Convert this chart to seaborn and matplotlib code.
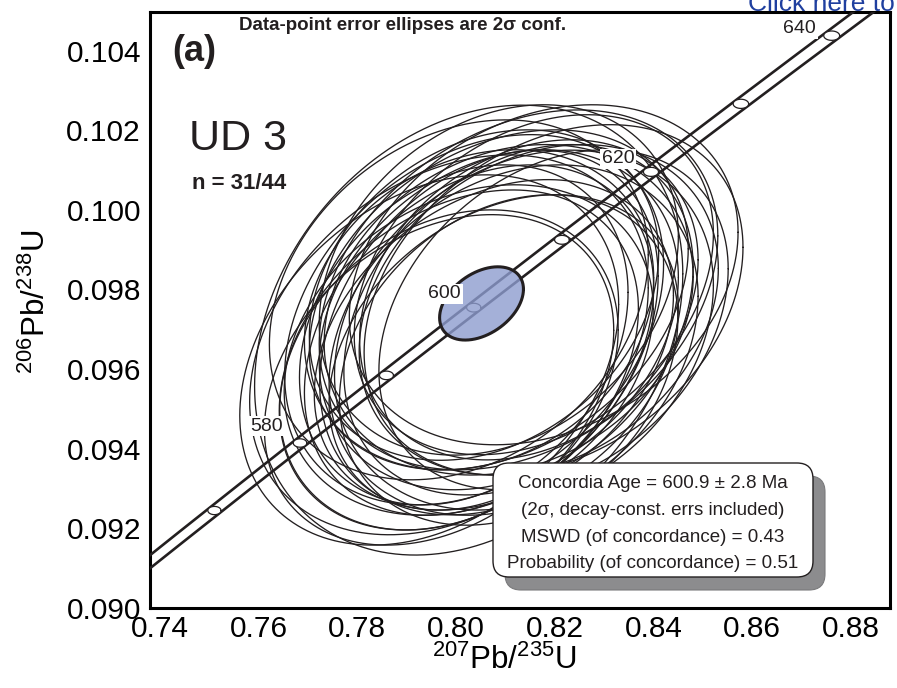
import numpy as np
import pandas as pd
import matplotlib
matplotlib.use("Agg")
import matplotlib.pyplot as plt
import matplotlib.transforms as mtransforms
from matplotlib.patches import FancyBboxPatch
import seaborn as sns

# ---------------- data (2-sigma half extents) ----------------
pb207_u235 = [0.8046, 0.7966, 0.8006, 0.8147, 0.8198, 0.8218, 0.8107, 0.8067,
              0.8127, 0.8026, 0.8168, 0.8087, 0.8046, 0.8147, 0.8107, 0.8188,
              0.8006, 0.8067, 0.8137, 0.8097, 0.8178, 0.8036, 0.8117, 0.8158,
              0.8077, 0.7986, 0.8218, 0.8057, 0.8127, 0.8107, 0.8026]
pb206_u238 = [0.09698, 0.09623, 0.09661, 0.09799, 0.09837, 0.09774, 0.09724, 0.09673,
              0.09749, 0.09623, 0.09774, 0.09698, 0.09648, 0.09724, 0.09774, 0.09749,
              0.09598, 0.09749, 0.09673, 0.09661, 0.09812, 0.09686, 0.09636, 0.09698,
              0.09786, 0.09573, 0.09724, 0.09724, 0.09623, 0.09824, 0.09774]
err_x_2s = [0.0434, 0.0384, 0.0404, 0.0404, 0.0394, 0.0384, 0.0364, 0.0354,
            0.0374, 0.0364, 0.0343, 0.0343, 0.0374, 0.0354, 0.0384, 0.0364,
            0.0343, 0.0354, 0.0374, 0.0364, 0.0364, 0.0333, 0.0354, 0.0384,
            0.0354, 0.0354, 0.0354, 0.0384, 0.0343, 0.0364, 0.0384]
err_y_2s = [0.00565, 0.00465, 0.00477, 0.00452, 0.00427, 0.00440, 0.00427, 0.00440,
            0.00415, 0.00427, 0.00402, 0.00452, 0.00415, 0.00440, 0.00427, 0.00415,
            0.00402, 0.00402, 0.00440, 0.00415, 0.00427, 0.00427, 0.00402, 0.00452,
            0.00415, 0.00415, 0.00427, 0.00465, 0.00415, 0.00440, 0.00452]
rho = [0.25, 0.30, 0.30, 0.30, 0.25, 0.30, 0.25, 0.30,
       0.20, 0.30, 0.25, 0.30, 0.25, 0.30, 0.30, 0.25,
       0.25, 0.20, 0.25, 0.30, 0.30, 0.25, 0.30, 0.25,
       0.25, 0.30, 0.30, 0.30, 0.25, 0.25, 0.25]

# concordia age ellipse
conc_center = (0.8072, 0.09765)
conc_err = (0.0085, 0.00092)
conc_rho = 0.39

# decay constants (1/yr) and 2-sigma relative errors
lam238, lam235 = 1.55125e-10, 9.8485e-10
lam238_rel2s, lam235_rel2s = 0.00107, 0.00136
marker_ages = [570, 580, 590, 600, 610, 620, 630, 640]
label_ages = [580, 600, 620, 640]

xlim = (0.74, 0.8895)
ylim = (0.090, 0.10497)
x_major = [0.74, 0.76, 0.78, 0.80, 0.82, 0.84, 0.86, 0.88]
x_minor = [0.75, 0.77, 0.79, 0.81, 0.83, 0.85, 0.87, 0.89]
y_major = [0.090, 0.092, 0.094, 0.096, 0.098, 0.100, 0.102, 0.104]
y_minor = [0.091, 0.093, 0.095, 0.097, 0.099, 0.101, 0.103]

box_lines = ["Concordia Age = 600.9 \u00b1 2.8 Ma",
             "(2\u03c3, decay-const. errs included)",
             "MSWD (of concordance) = 0.43",
             "Probability (of concordance) = 0.51"]

# ---------------- helpers ----------------
def outline(cx, cy, sx, sy, r, n=181):
    th = np.linspace(0, 2 * np.pi, n)
    x = cx + sx * np.cos(th)
    y = cy + sy * (r * np.cos(th) + np.sqrt(1 - r * r) * np.sin(th))
    return x, y

# ---------------- style ----------------
sns.set_theme(style="white")
plt.rcParams["font.family"] = ["Liberation Sans", "DejaVu Sans"]
plt.rcParams["mathtext.fontset"] = "custom"
plt.rcParams["mathtext.rm"] = "Liberation Sans"
plt.rcParams["mathtext.it"] = "Liberation Sans:italic"
plt.rcParams["mathtext.bf"] = "Liberation Sans:bold"

INK = "#231f20"
fig = plt.figure(figsize=(8.97, 6.88), dpi=100)
ax = fig.add_axes([150 / 897, 80 / 688, 740 / 897, 596 / 688])

# data ellipses
rows = []
for i, (cx, cy, sx, sy, r) in enumerate(zip(pb207_u235, pb206_u238, err_x_2s, err_y_2s, rho)):
    ex, ey = outline(cx, cy, sx, sy, r)
    rows.append(pd.DataFrame({"id": i, "x": ex, "y": ey}))
df = pd.concat(rows, ignore_index=True)
sns.lineplot(data=df, x="x", y="y", units="id", estimator=None, sort=False,
             color=INK, lw=0.95, legend=False, ax=ax, zorder=2)

# concordia band
t = np.linspace(540e6, 660e6, 500)
cxv = np.expm1(lam235 * t)
cyv = np.expm1(lam238 * t)
a = t * lam235 * lam235_rel2s * (1 + cxv)
b = t * lam238 * lam238_rel2s * (1 + cyv)
s = lam238 * (1 + cyv) / (lam235 * (1 + cxv))
h = np.sqrt(a ** 2 * s ** 2 + b ** 2)
offx = a ** 2 * s / h
offy = b ** 2 / h
band = pd.concat([
    pd.DataFrame({"side": "upper", "x": cxv - offx, "y": cyv + offy}),
    pd.DataFrame({"side": "lower", "x": cxv + offx, "y": cyv - offy}),
], ignore_index=True)
sns.lineplot(data=band, x="x", y="y", units="side", estimator=None, sort=False,
             color=INK, lw=1.9, legend=False, ax=ax, zorder=3)

# age markers
mrows = []
for age in marker_ages:
    tt = age * 1e6
    mx, my = np.expm1(lam235 * tt), np.expm1(lam238 * tt)
    ma = tt * lam235 * lam235_rel2s * (1 + mx)
    mb = tt * lam238 * lam238_rel2s * (1 + my)
    ex, ey = outline(mx, my, ma, mb, 0.0, 61)
    ax.fill(ex, ey, color="white", lw=0, zorder=3.5)
    mrows.append(pd.DataFrame({"age": age, "x": ex, "y": ey}))
mdf = pd.concat(mrows, ignore_index=True)
sns.lineplot(data=mdf, x="x", y="y", units="age", estimator=None, sort=False,
             color=INK, lw=0.9, legend=False, ax=ax, zorder=3.6)

# concordia-age ellipse
ex, ey = outline(conc_center[0], conc_center[1], conc_err[0], conc_err[1], conc_rho, 241)
ax.fill(ex, ey, color="#8d9ccf", alpha=0.8, lw=0, zorder=4)
cdf = pd.DataFrame({"id": 0, "x": ex, "y": ey})
sns.lineplot(data=cdf, x="x", y="y", units="id", estimator=None, sort=False,
             color=INK, lw=2.2, legend=False, ax=ax, zorder=5)

# age labels (offset up-left of marker, in pixels)
label_offsets = {580: (-33, 17), 600: (-29, 14), 620: (-33, 13), 640: (-32, 7)}
for age in label_ages:
    tt = age * 1e6
    dx, dy = label_offsets[age]
    tr = mtransforms.offset_copy(ax.transData, fig=fig, x=dx, y=dy, units="dots")
    ax.text(np.expm1(lam235 * tt), np.expm1(lam238 * tt), str(age), transform=tr,
            ha="center", va="center", fontsize=14, color=INK, zorder=6,
            bbox=dict(boxstyle="square,pad=0.08", fc="white", ec="none"))

# axes
ax.set_xlim(*xlim)
ax.set_ylim(*ylim)
ax.set_xticks(x_major, [f"{v:.2f}" for v in x_major])
ax.set_xticks(x_minor, minor=True)
ax.set_yticks(y_major, [f"{v:.3f}" for v in y_major])
ax.set_yticks(y_minor, minor=True)
ax.set_xlabel("")
ax.set_ylabel("")
ax.tick_params(axis="both", which="both", direction="in", length=5, width=1.3,
               color="black", top=False, right=False)
ax.tick_params(axis="both", which="major", labelsize=21.5, labelcolor="black")
ax.tick_params(axis="x", which="major", pad=5)
ax.tick_params(axis="y", which="major", pad=6.5)
for sp in ax.spines.values():
    sp.set_linewidth(2.2)
    sp.set_color("black")
shift = mtransforms.ScaledTranslation(10 / 100, 0, fig.dpi_scale_trans)
for lab in ax.get_xticklabels():
    lab.set_transform(lab.get_transform() + shift)

def px(xp, yp):
    return xp / 897, 1 - yp / 688

fig.text(*px(504, 660), r"$^{207}\mathrm{Pb}/^{235}\mathrm{U}$", fontsize=22.5,
         ha="center", va="center", color="black")
fig.text(*px(36, 302), r"$^{206}\mathrm{Pb}/^{238}\mathrm{U}$", fontsize=22.5,
         ha="center", va="center", rotation=90, color="black")

# annotations
fig.text(*px(172, 61), "(a)", fontsize=26, fontweight="bold", ha="left", va="baseline", color=INK)
fig.text(*px(239, 30), "Data-point error ellipses are 2\u03c3 conf.", fontsize=13.5,
         fontweight="bold", ha="left", va="baseline", color=INK)
fig.text(*px(189, 150), "UD 3", fontsize=31, ha="left", va="baseline", color=INK)
fig.text(*px(192, 189), "n = 31/44", fontsize=16, fontweight="bold", ha="left",
         va="baseline", color=INK)
fig.text(*px(748, 11), "Click here to", fontsize=19, ha="left", va="baseline",
         color="#1f3f9f", zorder=10)

# results box with shadow (pixel coordinates)
idt = mtransforms.IdentityTransform()
shadow = FancyBboxPatch((505, 688 - 590), 320, 114, boxstyle="round,pad=0,rounding_size=16",
                        transform=idt, fc="#8c8c8e", ec="#7a7a7c", lw=0.8, zorder=2)
box = FancyBboxPatch((493, 688 - 577), 320, 114, boxstyle="round,pad=0,rounding_size=16",
                     transform=idt, fc="white", ec=INK, lw=1.0, zorder=3)
fig.add_artist(shadow)
fig.add_artist(box)
for k, line in enumerate(box_lines):
    fig.text(*px(653, 484 + 26.5 * k), line, fontsize=13.5, ha="center", va="center",
             color=INK, zorder=4)

fig.savefig("out.png", dpi=100)
